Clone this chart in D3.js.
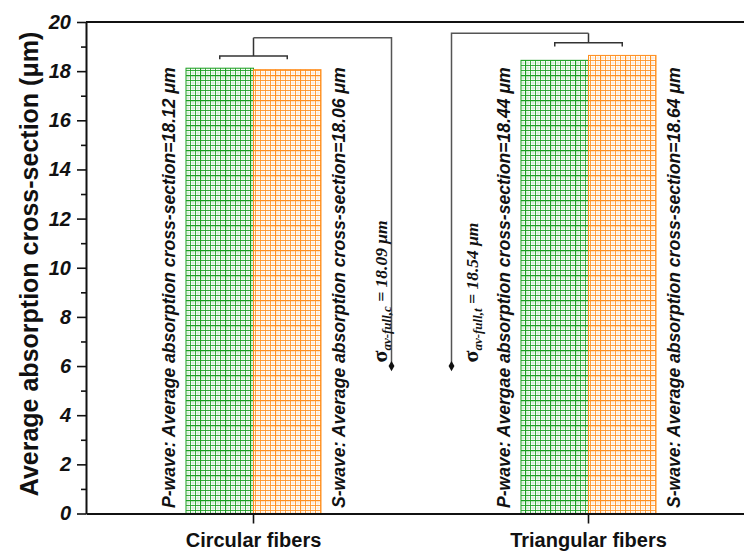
<!DOCTYPE html>
<html>
<head>
<meta charset="utf-8">
<script src="https://cdn.jsdelivr.net/npm/d3@7"></script>
<style>
  body { margin: 0; background: #fff; }
  .sans { font-family: "Liberation Sans", Arial, sans-serif; }
  .serif { font-family: "Liberation Serif", "Times New Roman", serif; }
</style>
</head>
<body>
<div id="chart"></div>
<script>
// data
var categories = ["Circular fibers", "Triangular fibers"];
var pValues = [18.12, 18.44];
var sValues = [18.06, 18.64];
var pLabels = ["P-wave: Average absorption cross-section=", "P-wave: Avergae absorption cross-section="];
var sLabels = ["S-wave: Average absorption cross-section=", "S-wave: Average absorption cross-section="];
var fullValues = [18.09, 18.54];
var fullSubs = ["av-full,c", "av-full,t"];
var yMajor = [0, 2, 4, 6, 8, 10, 12, 14, 16, 18, 20];
var yMinor = [1, 3, 5, 7, 9, 11, 13, 15, 17, 19];
var markerValue = 6;

var W = 744, H = 556;
var mLeft = 86, mTop = 22, mBottom = 513.5;
var barW = 67.5;
var green = "#1a9e20", orange = "#ff8f1f";

var svg = d3.select("#chart").append("svg")
    .attr("width", W)
    .attr("height", H);

var x = d3.scaleBand().domain(categories).range([mLeft, 756]);
var y = d3.scaleLinear().domain([0, 20]).range([mBottom, mTop]);
function cx(c) { return x(c) + x.bandwidth() / 2; }

// graph-paper hatch patterns: fine grid + coarser darker grid
var defs = svg.append("defs");
function grid(id, col) {
  var p = defs.append("pattern")
      .attr("id", id)
      .attr("patternUnits", "userSpaceOnUse")
      .attr("width", 5).attr("height", 5);
  p.append("rect").attr("width", 5).attr("height", 5).attr("fill", "#fff");
  p.append("path").attr("d", "M3,0V5M0,3H5")
      .attr("stroke", col).attr("stroke-opacity", 0.18).attr("stroke-width", 1);
  p.append("path").attr("d", "M0.5,0V5M0,0.5H5")
      .attr("stroke", col).attr("stroke-opacity", 0.85).attr("stroke-width", 1);
  var q = defs.append("pattern")
      .attr("id", id + "big")
      .attr("patternUnits", "userSpaceOnUse")
      .attr("width", 25).attr("height", 25);
  q.append("path").attr("d", "M0.5,0V25M0,0.5H25")
      .attr("stroke", col).attr("stroke-width", 1.3);
}
grid("gP", green);
grid("gS", orange);

// bars
var bars = svg.append("g");
function bar(x0, v, pat, col) {
  bars.append("rect")
      .attr("x", x0).attr("y", y(v))
      .attr("width", barW).attr("height", y(0) - y(v))
      .attr("fill", "url(#" + pat + ")");
  bars.append("rect")
      .attr("x", x0).attr("y", y(v))
      .attr("width", barW).attr("height", y(0) - y(v))
      .attr("fill", "url(#" + pat + "big)")
      .attr("stroke", col).attr("stroke-width", 1);
}
categories.forEach(function (c, i) {
  bar(cx(c) - barW, pValues[i], "gP", green);
  bar(cx(c), sValues[i], "gS", orange);
});

// axes
var yAxis = svg.append("g").attr("class", "sans")
    .attr("transform", "translate(" + mLeft + ",0)")
    .call(d3.axisLeft(y).tickValues(yMajor).tickSize(9).tickSizeOuter(0).tickPadding(6).tickFormat(d3.format("d")));
yAxis.selectAll("text")
    .style("font-size", "20px").style("font-weight", "bold").style("font-style", "italic").attr("fill", "#111");
svg.append("g")
    .attr("transform", "translate(" + mLeft + ",0)")
    .call(d3.axisLeft(y).tickValues(yMinor).tickSize(5).tickFormat(""))
    .select(".domain").remove();

var xAxis = svg.append("g").attr("class", "sans")
    .attr("transform", "translate(0," + mBottom + ")")
    .call(d3.axisBottom(x).tickSize(10).tickSizeOuter(0).tickPadding(9));
xAxis.selectAll("text")
    .style("font-size", "20px").style("font-weight", "bold").attr("fill", "#111");

svg.selectAll(".domain").attr("stroke", "#111").attr("stroke-width", 2);
svg.selectAll(".tick line").attr("stroke", "#111").attr("stroke-width", 1.6);

// top frame line
svg.append("line")
    .attr("x1", mLeft).attr("x2", W)
    .attr("y1", y(20)).attr("y2", y(20))
    .attr("stroke", "#111").attr("stroke-width", 2);

// y title
svg.append("text").attr("class", "sans")
    .attr("transform", "translate(38,264) rotate(-90)")
    .attr("text-anchor", "middle")
    .style("font-size", "25px").style("font-weight", "bold")
    .attr("fill", "#111")
    .text("Average absorption cross-section (\u03bcm)");

// rotated bar annotations
function vtext(xb, txt) {
  svg.append("text").attr("class", "sans")
      .attr("transform", "translate(" + xb + "," + (y(0) - 5.5) + ") rotate(-90)")
      .style("font-size", "17.6px").style("font-weight", "bold").style("font-style", "italic")
      .attr("fill", "#111")
      .text(txt);
}
categories.forEach(function (c, i) {
  vtext(cx(c) - barW - 11, pLabels[i] + pValues[i].toFixed(2) + " \u03bcm");
  vtext(cx(c) + barW + 24, sLabels[i] + sValues[i].toFixed(2) + " \u03bcm");
});

// brackets and sigma leaders
var brackets = [
  { inner: 18.62, drop: 18.48, outer: 19.36, lead: 138, textOff: -5 },
  { inner: 19.16, drop: 19.0, outer: 19.54, lead: -137, textOff: 26 }
];
categories.forEach(function (c, i) {
  var b = brackets[i];
  var c0 = cx(c), x1 = c0 - barW / 2, x2 = c0 + barW / 2, xl = c0 + b.lead;
  svg.append("path")
      .attr("d", "M" + x1 + "," + y(b.drop) + "V" + y(b.inner) + "H" + x2 + "V" + y(b.drop) +
                 "M" + c0 + "," + y(b.inner) + "V" + y(b.outer))
      .attr("fill", "none").attr("stroke", "#333").attr("stroke-width", 1.5);
  svg.append("path")
      .attr("d", "M" + c0 + "," + y(b.outer) + "H" + xl + "V" + y(markerValue))
      .attr("fill", "none").attr("stroke", "#555").attr("stroke-width", 1.5);
  svg.append("path")
      .attr("transform", "translate(" + xl + "," + y(markerValue) + ")")
      .attr("d", d3.symbol(d3.symbolDiamond).size(30)())
      .attr("fill", "#111");

  var t = svg.append("text").attr("class", "serif")
      .attr("transform", "translate(" + (xl + b.textOff) + "," + (y(markerValue) - 3.5) + ") rotate(-90)")
      .style("font-size", "17.5px").style("font-style", "italic").style("font-weight", "bold")
      .attr("fill", "#111");
  t.append("tspan").style("font-style", "normal").style("font-size", "22px").text("\u03c3");
  t.append("tspan").attr("dy", 4).style("font-size", "13px").text(fullSubs[i]);
  t.append("tspan").attr("dy", -4).text(" = " + fullValues[i].toFixed(2) + " \u03bcm");
});
</script>
</body>
</html>
